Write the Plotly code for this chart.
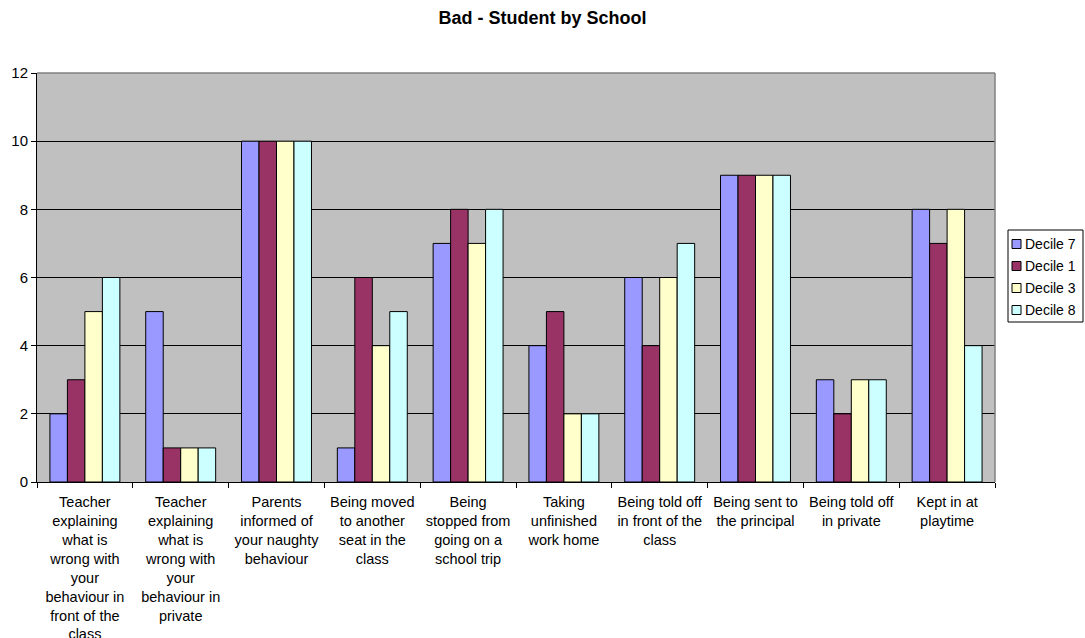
import plotly.graph_objects as go

categories = [
    "Teacher<br>explaining<br>what is<br>wrong with<br>your<br>behaviour in<br>front of the<br>class",
    "Teacher<br>explaining<br>what is<br>wrong with<br>your<br>behaviour in<br>private",
    "Parents<br>informed of<br>your naughty<br>behaviour",
    "Being moved<br>to another<br>seat in the<br>class",
    "Being<br>stopped from<br>going on a<br>school trip",
    "Taking<br>unfinished<br>work home",
    "Being told off<br>in front of the<br>class",
    "Being sent to<br>the principal",
    "Being told off<br>in private",
    "Kept in at<br>playtime",
]

series_names = ["Decile 7", "Decile 1", "Decile 3", "Decile 8"]
decile_7 = [2, 5, 10, 1, 7, 4, 6, 9, 3, 8]
decile_1 = [3, 1, 10, 6, 8, 5, 4, 9, 2, 7]
decile_3 = [5, 1, 10, 4, 7, 2, 6, 9, 3, 8]
decile_8 = [6, 1, 10, 5, 8, 2, 7, 9, 3, 4]
series_values = [decile_7, decile_1, decile_3, decile_8]
series_colors = ["#9999FF", "#993366", "#FFFFCC", "#CCFFFF"]

W, H = 1085, 638
L, R, T, B = 37, 90, 73, 156
PW, PH = W - L - R, H - T - B

FONT = "Liberation Sans, Arial, sans-serif"
x_tick_font = dict(family=FONT, size=14.5, color="black")
y_tick_font = dict(family=FONT, size=15, color="black")

fig = go.Figure()
for name, vals, color in zip(series_names, series_values, series_colors):
    fig.add_trace(go.Bar(
        name=name, x=categories, y=vals,
        marker=dict(color=color, line=dict(color="black", width=1)),
        showlegend=False,
    ))

fig.update_layout(
    width=W, height=H,
    margin=dict(l=L, r=R, t=T, b=B, autoexpand=False),
    paper_bgcolor="white",
    plot_bgcolor="#C0C0C0",
    barmode="group",
    bargap=0.27,
    bargroupgap=0,
    font=y_tick_font,
    title=dict(
        text="<b>Bad - Student by School</b>",
        x=0.5, xref="container", xanchor="center",
        y=1 - 18 / H, yref="container", yanchor="middle",
        font=dict(family=FONT, size=18, color="black"),
    ),
)

fig.update_xaxes(
    type="category",
    showline=True, linecolor="black", linewidth=1,
    ticks="outside", ticklen=5, tickcolor="black",
    tickson="boundaries",
    showgrid=False,
    tickangle=0,
    tickfont=x_tick_font,
    ticklabelstandoff=7,
)
fig.update_yaxes(
    range=[0, 12], dtick=2,
    showline=True, linecolor="black", linewidth=1,
    ticks="outside", ticklen=5, tickcolor="black",
    showgrid=True, gridcolor="black", gridwidth=1,
    zeroline=False,
    tickfont=y_tick_font,
)

# grey frame on the top and right edges of the plotting area
fig.add_shape(type="line", xref="paper", yref="paper", x0=0, y0=1, x1=1, y1=1,
              line=dict(color="#808080", width=1.5))
fig.add_shape(type="line", xref="paper", yref="paper", x0=1, y0=0, x1=1, y1=1,
              line=dict(color="#808080", width=1.5))


def px_x(X):
    return (X - L) / PW


def px_y(Y):
    return (H - B - Y) / PH


# boxed legend to the right of the plotting area
box_x0, box_x1, box_y0, box_y1 = 1008, 1083, 230, 322
fig.add_shape(type="rect", xref="paper", yref="paper",
              x0=px_x(box_x0), x1=px_x(box_x1), y0=px_y(box_y1), y1=px_y(box_y0),
              line=dict(color="black", width=1), fillcolor="white")
for i, (name, color) in enumerate(zip(series_names, series_colors)):
    cy = 244 + 22 * i
    fig.add_shape(type="rect", xref="paper", yref="paper",
                  x0=px_x(1012), x1=px_x(1021), y0=px_y(cy + 4.5), y1=px_y(cy - 4.5),
                  line=dict(color="black", width=1), fillcolor=color)
    fig.add_annotation(xref="paper", yref="paper", x=px_x(1023), y=px_y(cy),
                       xanchor="left", yanchor="middle", showarrow=False,
                       text=name, font=dict(family=FONT, size=14, color="black"))

fig.write_html("out.html")
